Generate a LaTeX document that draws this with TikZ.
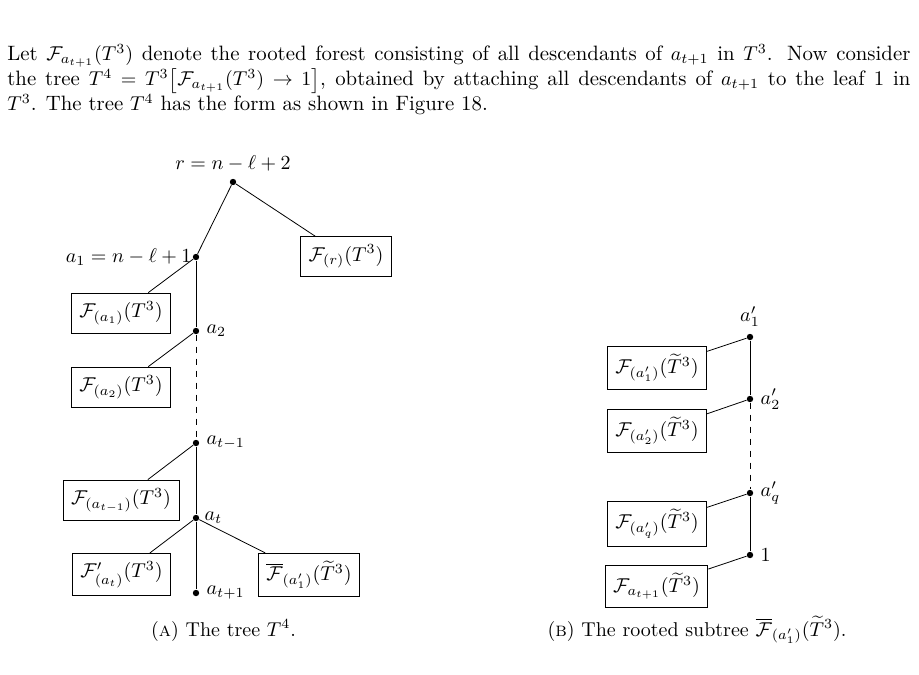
\documentclass[tikz,border=0pt]{standalone}
\usepackage{amsmath,amssymb,amsfonts}
\usepackage{tikz}
\usetikzlibrary{positioning}

\begin{document}
\begin{tikzpicture}[
  x=0.5pt, y=-0.5pt,
  vtx/.style={circle, fill, inner sep=0pt, minimum size=3.2pt},
  forest/.style={rectangle, draw, inner sep=4pt, minimum height=20pt},
  gap/.style={dashed}
]
\useasboundingbox (0,0) rectangle (919,674);

% Paragraph
\node[anchor=base west, inner sep=0pt] (par) at (7,61) {\parbox[t]{451.5pt}{\fontsize{10.4pt}{12.4pt}\selectfont\noindent
  Let $\mathcal{F}_{a_{t+1}}(T^3)$ denote the rooted forest consisting of all descendants of $a_{t+1}$ in $T^3$. Now consider\linebreak
  the tree $T^4=T^3\big[\mathcal{F}_{a_{t+1}}(T^3)\to 1\big]$, obtained by attaching all descendants of $a_{t+1}$ to the leaf 1 in\linebreak
  $T^3$. The tree $T^4$ has the form as shown in Figure 18.}};

% Tree T^4: spine
\node[vtx, label={above:$r=n-\ell+2$}] (r) at (233,182) {};
\node[vtx, label={[label distance=-3pt]left:$a_1=n-\ell+1$}] (a1) at (196,257) {};
\node[vtx, label={right:$a_2$}] (a2) at (196,331) {};
\node[vtx, label={right:$a_{t-1}$}] (atm) at (196,443) {};
\node[vtx, label={[label distance=-1pt]right:$a_t$}] (at) at (196,518) {};
\node[vtx, label={right:$a_{t+1}$}] (atp) at (196,593) {};

% Tree T^4: forests
\node[forest] (Fr) at (346,256.5) {$\mathcal{F}_{(r)}(T^3)$};
\node[forest] (Fa1) at (121,313) {$\mathcal{F}_{(a_1)}(T^3)$};
\node[forest] (Fa2) at (121,387) {$\mathcal{F}_{(a_2)}(T^3)$};
\node[forest] (Fatm) at (121,500) {$\mathcal{F}_{(a_{t-1})}(T^3)$};
\node[forest] (Fat) at (121.5,574.5) {$\mathcal{F}'_{(a_t)}(T^3)$};
\node[forest] (Fbar) at (309,575) {$\overline{\mathcal{F}}_{(a'_1)}(\widetilde{T}^3)$};

% Edges
\draw (r) -- (a1);
\draw (r) -- (Fr);
\draw (a1) -- (a2);
\draw[gap] (a2) -- (atm);
\draw (atm) -- (at);
\draw (at) -- (atp);
\draw (a1) -- (Fa1);
\draw (a2) -- (Fa2);
\draw (atm) -- (Fatm);
\draw (at) -- (Fat);
\draw (at) -- (Fbar);

% Caption
\node[anchor=base] (capA) at (223.5,636) {(\textsc{a}) The tree $T^4$.};

% Subtree: spine
\node[vtx, label={above:$a'_1$}] (b1) at (750,337) {};
\node[vtx, label={right:$a'_2$}] (b2) at (750,399) {};
\node[vtx, label={right:$a'_q$}] (bq) at (750,493) {};
\node[vtx, label={right:$1$}] (one) at (750,555) {};

% Subtree: forests
\node[forest] (Fb1) at (657,368) {$\mathcal{F}_{(a'_1)}(\widetilde{T}^3)$};
\node[forest] (Fb2) at (657,431) {$\mathcal{F}_{(a'_2)}(\widetilde{T}^3)$};
\node[forest] (Fbq) at (657,524) {$\mathcal{F}_{(a'_q)}(\widetilde{T}^3)$};
\node[forest] (Fone) at (656.5,586.5) {$\mathcal{F}_{a_{t+1}}(\widetilde{T}^3)$};

% Edges
\draw (b1) -- (b2);
\draw[gap] (b2) -- (bq);
\draw (bq) -- (one);
\draw (b1) -- (Fb1);
\draw (b2) -- (Fb2);
\draw (bq) -- (Fbq);
\draw (one) -- (Fone);

% Caption
\node[anchor=base] (capB) at (697,636) {(\textsc{b}) The rooted subtree $\overline{\mathcal{F}}_{(a'_1)}(\widetilde{T}^3)$.};

\end{tikzpicture}
\end{document}
